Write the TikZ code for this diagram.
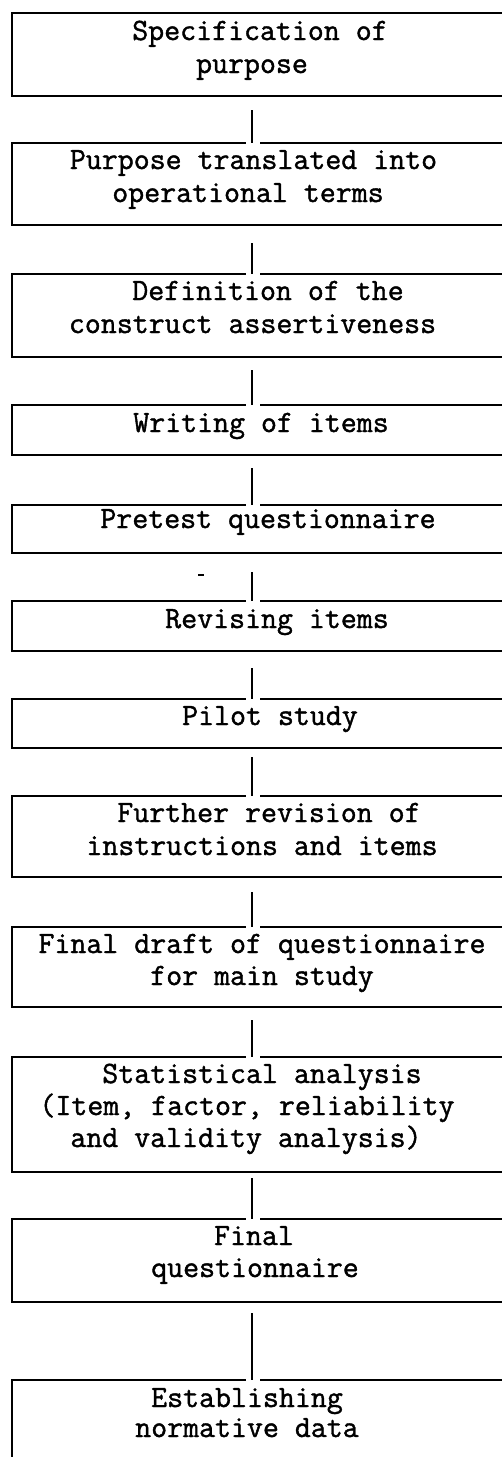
\documentclass[tikz,border=0pt]{standalone}
\usepackage{fontspec}
\newfontfamily\twfont[FakeBold=1.3]{Latin Modern Mono}
\usetikzlibrary{calc}
\begin{document}
\begin{tikzpicture}[x=1pt,y=-1pt,
  boxnode/.style={rectangle,inner sep=0pt,outer sep=0pt,minimum width=520pt,anchor=north west},
  edge/.style={line width=2.2pt,line join=miter,line cap=rect,black},
  conn/.style={line width=2.2pt,black},
  txt/.style={anchor=base,inner sep=0pt,font=\twfont\fontsize{31}{34}\selectfont}]
\useasboundingbox (0,0) rectangle (502,1457);
\clip (0,0) rectangle (502,1457);
\fill[white] (0,0) rectangle (502,1457);
% boxes
\node[boxnode,minimum height=83pt] (b1) at (12,13) {};
\node[boxnode,minimum height=82pt] (b2) at (12,143) {};
\node[boxnode,minimum height=83pt] (b3) at (12,274) {};
\node[boxnode,minimum height=50pt] (b4) at (12,405) {};
\node[boxnode,minimum height=48pt] (b5) at (12,505) {};
\node[boxnode,minimum height=50pt] (b6) at (12,601) {};
\node[boxnode,minimum height=49pt] (b7) at (12,699) {};
\node[boxnode,minimum height=81pt] (b8) at (12,796) {};
\node[boxnode,minimum height=80pt] (b9) at (12,927) {};
\node[boxnode,minimum height=115pt] (b10) at (12,1057) {};
\node[boxnode,minimum height=83pt] (b11) at (12,1219) {};
\node[boxnode,minimum height=110pt] (b12) at (12,1380) {};
% connector start points
\coordinate (c1) at (252,110);
\coordinate (c2) at (252,243);
\coordinate (c3) at (252,370);
\coordinate (c4) at (252,468);
\coordinate (c5) at (252,572);
\coordinate (c6) at (252,668);
\coordinate (c7) at (252,757);
\coordinate (c8) at (252,892);
\coordinate (c9) at (252,1020);
\coordinate (c10) at (252,1178);
\coordinate (c11) at (252,1313);
% first box outline
\draw[edge] (b1.north east) -- (b1.north west) -- (b1.south west) -- (b1.south east);
% other boxes with a gap in the top line
\foreach \i/\c in {2/1,3/2,4/3,5/4,6/5,7/6,8/7,9/8,10/9,11/10,12/11}{
  \draw[edge] ($(c\c |- b\i.north)+(-7,0)$) -- (b\i.north west) -- (b\i.south west) -- (b\i.south east);
  \draw[edge] ($(c\c |- b\i.north)+(9,0)$) -- (b\i.north east);
  \draw[conn] (c\c) -- (c\c |- b\i.north);
}
% small stray mark
\draw[line width=1.2pt] (198,575) -- (204,575);
% texts
\node[txt] (t1a) at (260,40) {Specification of};
\node[txt] (t1b) at (252,73) {purpose};
\node[txt] (t2a) at (253.5,169) {Purpose translated into};
\node[txt] (t2b) at (248,202) {operational terms};
\node[txt] (t3a) at (268,300) {Definition of the};
\node[txt] (t3b) at (252.5,333) {construct assertiveness};
\node[txt] (t4a) at (261,432) {Writing of items};
\node[txt] (t5a) at (268,528) {Pretest questionnaire};
\node[txt] (t6a) at (277,628) {Revising items};
\node[txt] (t7a) at (270,725) {Pilot study};
\node[txt] (t8a) at (269,822) {Further revision of};
\node[txt] (t8b) at (262,855) {instructions and items};
\node[txt] (t9a) at (262,953) {Final draft of questionnaire};
\node[txt] (t9b) at (262,985) {for main study};
\node[txt] (t10a) at (262,1083) {Statistical analysis};
\node[txt] (t10b) at (247,1115) {(Item, factor, reliability};
\node[txt] (t10c) at (246,1147) {and validity analysis)};
\node[txt] (t11a) at (254,1245) {Final};
\node[txt] (t11b) at (255,1277) {questionnaire};
\node[txt] (t12a) at (247,1407) {Establishing};
\node[txt] (t12b) at (247,1437) {normative data};
\end{tikzpicture}
\end{document}
